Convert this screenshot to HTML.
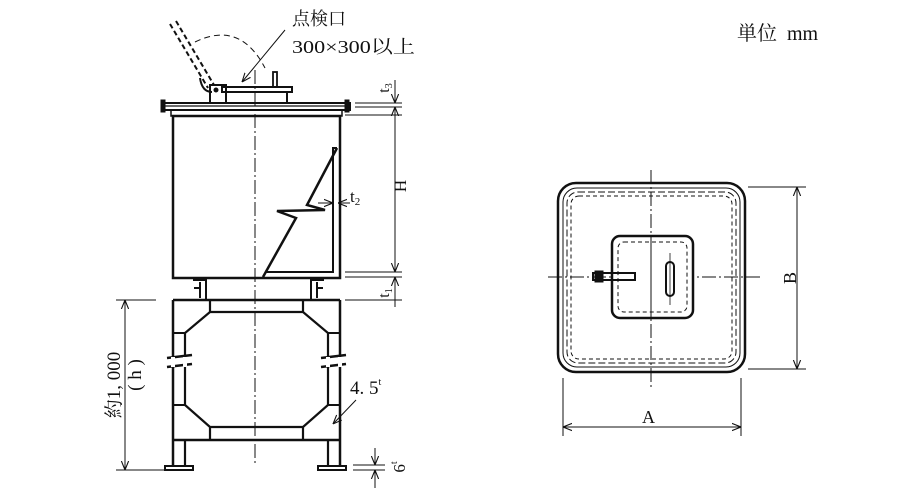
<!DOCTYPE html>
<html><head><meta charset="utf-8"><style>
body{margin:0;background:#fff}
svg{display:block}
text{font-family:"Liberation Serif","Noto Serif CJK SC",serif;fill:#111}
</style></head><body>
<svg width="900" height="500" viewBox="0 0 900 500" xmlns="http://www.w3.org/2000/svg">
<defs>
<marker id="ar" viewBox="0 0 10 10" refX="10" refY="5" markerWidth="9" markerHeight="9" orient="auto-start-reverse" markerUnits="userSpaceOnUse"><path d="M0,1 L10,5 L0,9" fill="none" stroke="#111" stroke-width="1.2"/></marker>
</defs>
<g stroke="#111" fill="none">
<line x1="255" y1="70" x2="255" y2="465" stroke-width="1" stroke-dasharray="14,3,2,3"/>
<path d="M170,24 L208,88" stroke-width="2" stroke-dasharray="5,3"/>
<path d="M176,21 L214,85" stroke-width="2" stroke-dasharray="5,3"/>
<path d="M195,42 Q240,20 265,68" stroke-width="1" stroke-dasharray="6,4"/>
<line x1="285" y1="30" x2="242" y2="82" stroke-width="1" marker-end="url(#ar)"/>
<rect x="164" y="103" width="186" height="7" stroke-width="2"/>
<line x1="164" y1="106" x2="350" y2="106" stroke-width="1.2"/>
<rect x="161" y="100" width="4" height="12" fill="#111" stroke-width="1"/>
<rect x="345" y="100" width="4" height="12" fill="#111" stroke-width="1"/>
<rect x="171" y="110" width="171" height="6" stroke-width="1.5"/>
<rect x="222" y="87" width="70" height="5" stroke-width="2"/>
<rect x="226" y="92" width="61" height="11" stroke-width="2"/>
<rect x="273" y="72" width="4" height="15" stroke-width="1.8"/>
<rect x="210" y="85" width="16" height="18" stroke-width="2"/>
<circle cx="216" cy="90" r="2" fill="#111"/>
<path d="M200,78 Q202,92 212,92" stroke-width="2"/>
<rect x="173" y="116" width="167" height="162" stroke-width="2.5"/>
<path d="M337,148 L307,205 L325,210 L277,211 L296,218 L263,277" stroke-width="2.5"/>
<path d="M337,148 L333,148 L333,272 L266,272" stroke-width="2"/>
<line x1="318" y1="203" x2="333" y2="203" stroke-width="1" marker-end="url(#ar)"/>
<line x1="350" y1="203" x2="338" y2="203" stroke-width="1" marker-end="url(#ar)"/>
<path d="M193,280 L206,280 L206,300 M200,282 L200,298 M194,288 L200,288" stroke-width="2"/>
<path d="M324,280 L311,280 L311,300 M317,282 L317,298 M323,288 L317,288" stroke-width="2"/>
<path d="M173,300 L340,300 M173,300 L173,440 M340,300 L340,440 M173,440 L340,440" stroke-width="2.5"/>
<path d="M210,300 L210,312 L303,312 L303,300 M210,312 L185,333 L185,357 M303,312 L328,333 L328,357" stroke-width="2.2"/>
<path d="M185,367 L185,405 L210,427 L303,427 L328,405 L328,367 M210,427 L210,440 M303,427 L303,440" stroke-width="2.2"/>
<path d="M173,333 L185,333 M173,405 L185,405 M328,333 L340,333 M328,405 L340,405" stroke-width="2"/>
<path d="M167,358 L192,355 M167,367 L192,364 M321,358 L346,355 M321,367 L346,364" stroke-width="2.5"/>
<line x1="173" y1="357" x2="173" y2="367" stroke="#fff" stroke-width="4"/>
<line x1="185" y1="357" x2="185" y2="367" stroke="#fff" stroke-width="4"/>
<line x1="328" y1="357" x2="328" y2="367" stroke="#fff" stroke-width="4"/>
<line x1="340" y1="357" x2="340" y2="367" stroke="#fff" stroke-width="4"/>
<path d="M185,440 L185,466 M328,440 L328,466" stroke-width="2.2"/>
<path d="M173,440 L173,466 M340,440 L340,466" stroke-width="2.5"/>
<rect x="165" y="466" width="28" height="4" stroke-width="2"/>
<rect x="318" y="466" width="28" height="4" stroke-width="2"/>
<line x1="356" y1="400" x2="333" y2="424" stroke-width="1" marker-end="url(#ar)"/>
<line x1="116" y1="300" x2="156" y2="300" stroke-width="1"/>
<line x1="116" y1="470" x2="166" y2="470" stroke-width="1"/>
<line x1="125" y1="300" x2="125" y2="470" stroke-width="1" marker-start="url(#ar)" marker-end="url(#ar)"/>
<path d="M355,103 L402,103 M355,107 L402,107 M345,115 L402,115 M345,272 L402,272 M345,277 L402,277 M345,300 L402,300" stroke-width="1"/>
<line x1="395" y1="80" x2="395" y2="103" stroke-width="1" marker-end="url(#ar)"/>
<line x1="395" y1="107" x2="395" y2="272" stroke-width="1" marker-start="url(#ar)" marker-end="url(#ar)"/>
<line x1="395" y1="300" x2="395" y2="277" stroke-width="1" marker-end="url(#ar)"/>
<line x1="395" y1="300" x2="395" y2="307" stroke-width="1"/>
<path d="M353,465 L385,465 M353,470 L385,470" stroke-width="1"/>
<line x1="375" y1="448" x2="375" y2="465" stroke-width="1" marker-end="url(#ar)"/>
<line x1="375" y1="488" x2="375" y2="470" stroke-width="1" marker-end="url(#ar)"/>
<line x1="651" y1="170" x2="651" y2="390" stroke-width="1" stroke-dasharray="14,3,2,3"/>
<line x1="548" y1="277" x2="760" y2="277" stroke-width="1" stroke-dasharray="14,3,2,3"/>
<rect x="558" y="183" width="187" height="189" rx="18" stroke-width="2.5"/>
<rect x="563" y="188" width="177" height="179" rx="14" stroke-width="1"/>
<rect x="567" y="192" width="169" height="171" rx="11" stroke-width="1" stroke-dasharray="7,3"/>
<rect x="571" y="196" width="161" height="163" rx="8" stroke-width="1" stroke-dasharray="4,3"/>
<rect x="612" y="236" width="81" height="82" rx="8" fill="#fff" stroke-width="2.5"/>
<rect x="618" y="242" width="69" height="70" rx="6" stroke-width="1" stroke-dasharray="4,3"/>
<line x1="651" y1="236" x2="651" y2="318" stroke-width="1"/>
<rect x="666" y="262" width="8" height="34" rx="4" stroke-width="2"/>
<line x1="670" y1="253" x2="670" y2="305" stroke-width="0.8"/>
<rect x="593" y="273" width="42" height="7" stroke-width="2"/>
<rect x="595" y="271" width="8" height="11" fill="#111" stroke-width="1"/>
<line x1="563" y1="378" x2="563" y2="436" stroke-width="1"/>
<line x1="741" y1="378" x2="741" y2="436" stroke-width="1"/>
<line x1="563" y1="427" x2="741" y2="427" stroke-width="1" marker-start="url(#ar)" marker-end="url(#ar)"/>
<line x1="748" y1="187" x2="806" y2="187" stroke-width="1"/>
<line x1="748" y1="369" x2="806" y2="369" stroke-width="1"/>
<line x1="797" y1="187" x2="797" y2="369" stroke-width="1" marker-start="url(#ar)" marker-end="url(#ar)"/>
</g>
<g font-size="16">
<text x="292" y="25" font-size="18">点検口</text>
<text x="292" y="53" font-size="18" textLength="123" lengthAdjust="spacingAndGlyphs">300×300以上</text>
<text x="350" y="202" font-size="17">t<tspan font-size="11" dy="3">2</tspan></text>
<text transform="translate(406,186) rotate(-90)" text-anchor="middle" font-size="17">H</text>
<text transform="translate(389,88) rotate(-90)" text-anchor="middle" font-size="16">t<tspan font-size="10" dy="3">3</tspan></text>
<text transform="translate(389,293) rotate(-90)" text-anchor="middle" font-size="16">t<tspan font-size="10" dy="3">1</tspan></text>
<text transform="translate(120,385) rotate(-90)" text-anchor="middle" font-size="19">約1, 000</text>
<text transform="translate(141,375) rotate(-90)" text-anchor="middle" font-size="19">( h )</text>
<text x="350" y="394" font-size="19">4. 5<tspan font-size="10" dy="-9">t</tspan></text>
<text transform="translate(405,467) rotate(-90)" text-anchor="middle" font-size="17">6<tspan font-size="10" dy="-8">t</tspan></text>
<text x="642" y="423" font-size="18">A</text>
<text transform="translate(796,278) rotate(-90)" text-anchor="middle" font-size="18">B</text>
<text x="737" y="40" font-size="20">単位&#160;&#160;mm</text>
</g>
</svg>
</body></html>
